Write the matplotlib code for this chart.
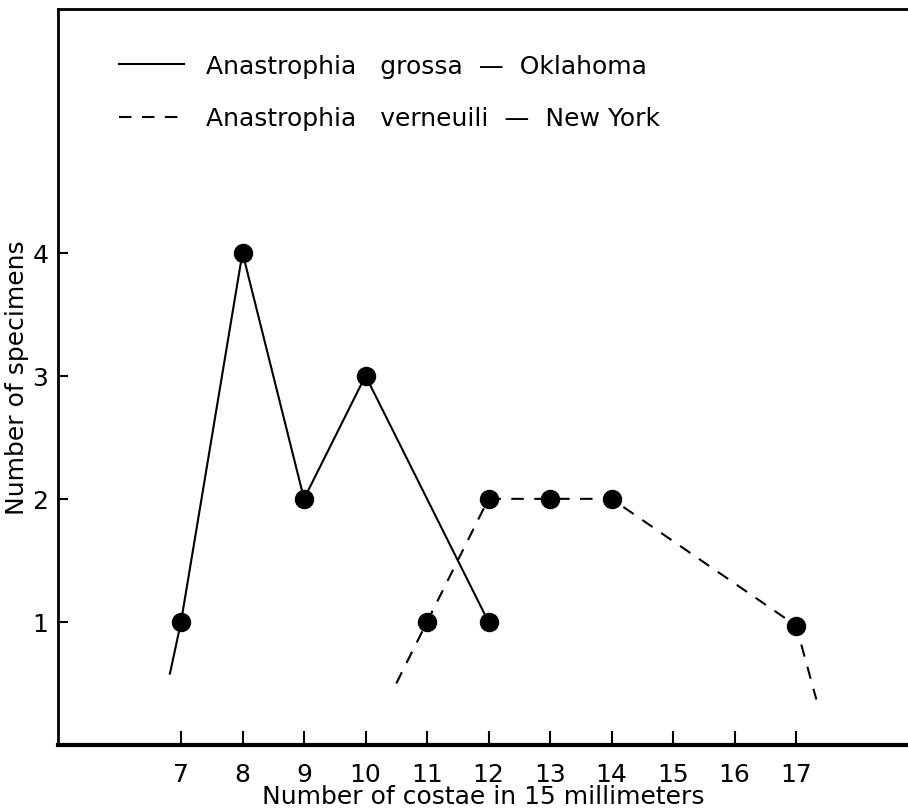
import matplotlib.pyplot as plt
from matplotlib.lines import Line2D

# Anastrophia grossa - Oklahoma (linha cheia)
grossa_x = [6.82, 7, 8, 9, 10, 12]
grossa_y = [0.58, 1, 4, 2, 3, 1]
grossa_pts_x = [7, 8, 9, 10, 12]
grossa_pts_y = [1, 4, 2, 3, 1]

# Anastrophia verneuili - New York (tracejada)
verneuili_x = [10.5, 11, 12, 13, 14, 17, 17.33]
verneuili_y = [0.5, 1, 2, 2, 2, 0.97, 0.37]
verneuili_pts_x = [11, 12, 13, 14, 17]
verneuili_pts_y = [1, 2, 2, 2, 0.97]

xticks = [7, 8, 9, 10, 11, 12, 13, 14, 15, 16, 17]
yticks = [1, 2, 3, 4]

fig = plt.figure(figsize=(9.08, 8.12), dpi=100)
ax = fig.add_axes([58 / 908, 1 - 746 / 812, 850 / 908, 736 / 812])

ax.plot(grossa_x, grossa_y, color='black', lw=1.5)
ax.plot(verneuili_x, verneuili_y, color='black', lw=1.5, ls=(0, (6, 5)))
ax.plot(grossa_pts_x, grossa_pts_y, 'o', color='black', ms=13)
ax.plot(verneuili_pts_x, verneuili_pts_y, 'o', color='black', ms=13)

ax.set_xlim(5, 18.82)
ax.set_ylim(0, 5.98)
ax.set_xticks(xticks)
ax.set_yticks(yticks)
ax.tick_params(axis='x', direction='in', length=10, width=1.5, labelsize=18, pad=12)
ax.tick_params(axis='y', direction='in', length=7, width=1.5, labelsize=18, pad=7)

ax.spines['right'].set_visible(False)
ax.spines['top'].set_linewidth(2)
ax.spines['left'].set_linewidth(2)
ax.spines['bottom'].set_linewidth(3)

ax.set_xlabel('Number of costae in 15 millimeters', fontsize=18, labelpad=-1)
ax.set_ylabel('Number of specimens', fontsize=18)
ax.yaxis.set_label_coords(-29 / 850, 0.5)

handles = [Line2D([], [], color='black', lw=1.5),
           Line2D([], [], color='black', lw=1.5, ls=(0, (6, 5)))]
labels = ['Anastrophia   grossa  \u2014  Oklahoma',
          'Anastrophia   verneuili  \u2014  New York']
ax.legend(handles, labels, loc='upper left', bbox_to_anchor=(0.045, 0.97),
          frameon=False, fontsize=18, handlelength=2.6, handletextpad=0.9,
          labelspacing=1.15)

fig.savefig('out.png', dpi=100)
